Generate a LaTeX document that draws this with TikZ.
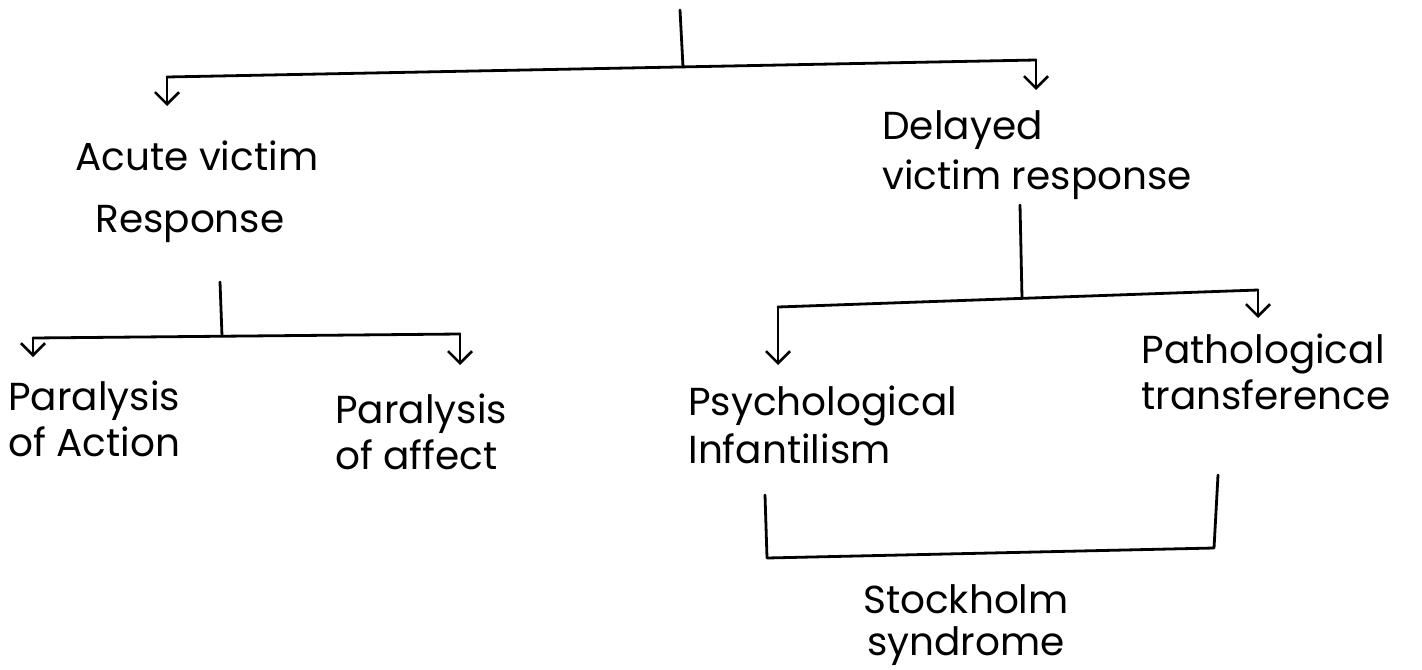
\documentclass[tikz,border=0pt]{standalone}
\usepackage{fontspec}
\setmainfont{Poppins}
\usetikzlibrary{arrows.meta}

\tikzset{
  hand/.style={line width=1.4pt,line cap=round,line join=round},
  down/.style={hand,-{Straight Barb[length=6pt,width=12pt,line width=1.3pt]}},
  lbl/.style={align=left,anchor=north west,inner sep=0pt,font=\fontsize{19.5}{23}\selectfont},
}

\begin{document}
\begin{tikzpicture}[x=0.5pt,y=-0.5pt]
    \useasboundingbox (0,0) rectangle (1422,669);
    % texts
    \node[lbl] (acute) at (75,140) {Acute victim\\[8pt]\hspace*{10pt}Response};
    \node[lbl] (delayed) at (882,110) {Delayed\\[2pt]victim response};
    \node[lbl] (paraact) at (8,380) {Paralysis\\of Action};
    \node[lbl] (paraaff) at (335,393) {Paralysis\\of affect};
    \node[lbl] (psych) at (688,385) {Psychological\\[1pt]Infantilism};
    \node[lbl] (patho) at (1141,333) {Pathological\\transference};
    \node[lbl,align=center,anchor=north] (stock) at (966,584) {Stockholm\\[-2pt]syndrome};
    % joints
    \coordinate (t0) at (680,10);
    \coordinate (t1) at (683,67);
    \coordinate (l0) at (167,77);
    \coordinate (r0) at (1036,60);
    \coordinate (la) at (167,106);
    \coordinate (ra) at (1036,90);
    \coordinate (as0) at (220,282);
    \coordinate (as1) at (222,336);
    \coordinate (ll) at (33,338);
    \coordinate (lr) at (460,334);
    \coordinate (lla) at (33,357);
    \coordinate (lra) at (460,365);
    \coordinate (rs0) at (1020,205);
    \coordinate (rs1) at (1022,298);
    \coordinate (rl) at (778,307);
    \coordinate (rr) at (1258,290);
    \coordinate (rla) at (778,365);
    \coordinate (rra) at (1258,318);
    \coordinate (b0) at (765,495);
    \coordinate (b1) at (767,558);
    \coordinate (b2) at (1214,548);
    \coordinate (b3) at (1218,475);
    % lines
    \foreach \a/\b in {t0/t1, l0/r0, as0/as1, ll/lr, rs0/rs1, rl/rr}
        \draw[hand] (\a) -- (\b);
    \foreach \a/\b in {l0/la, r0/ra, ll/lla, lr/lra, rl/rla, rr/rra}
        \draw[down] (\a) -- (\b);
    \draw[hand] (b0) -- (b1) -- (b2) -- (b3);
\end{tikzpicture}
\end{document}
